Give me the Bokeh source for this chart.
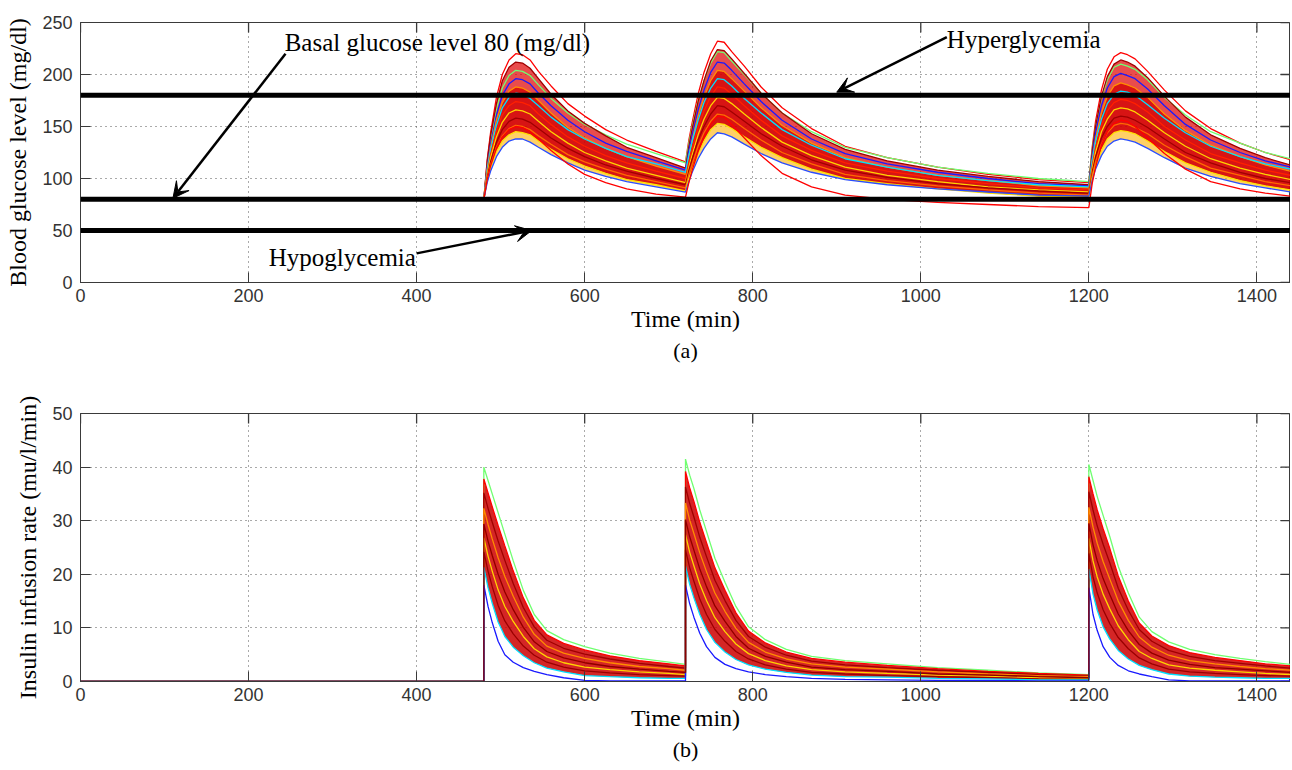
import math
from bokeh.plotting import figure
from bokeh.layouts import column
from bokeh.models import (Range1d, FixedTicker, Span, Arrow, VeeHead, Label, Title)
from bokeh.embed import file_html
from bokeh.resources import INLINE

# ---------------- data ----------------
X_TICKS = [0, 200, 400, 600, 800, 1000, 1200, 1400]
GLU_TICKS = [0, 50, 100, 150, 200, 250]
INS_TICKS = [0, 10, 20, 30, 40, 50]
GLU_LIMITS = [180, 80, 50]  # hyperglycemia, basal, hypoglycemia (mg/dl)

T_GLU = [0, 480, 484, 488, 495, 502, 510, 518, 526, 535, 545, 560, 580, 600, 625, 650, 685, 720,
         724, 728, 735, 742, 750, 758, 766, 775, 790, 810, 835, 870, 910, 960, 1020, 1080, 1140, 1200,
         1204, 1208, 1215, 1222, 1230, 1238, 1246, 1255, 1270, 1290, 1315, 1345, 1380, 1410, 1440]

glu_c01 = [80, 80, 118, 144, 178, 200, 214, 220, 219, 214, 203, 189, 172, 160, 147, 137, 126, 116,
           137, 154, 181, 202, 220, 232, 231, 222, 208, 188, 168, 148, 131, 120, 111, 104, 99, 96,
           130, 155, 185, 205, 217, 221, 219, 215, 203, 185, 165, 148, 134, 125, 118]
glu_c02 = [80, 80, 113, 137, 167, 187, 199, 204, 203, 199, 190, 177, 163, 152, 142, 133, 124, 115,
           134, 150, 175, 194, 211, 222, 221, 213, 200, 182, 163, 145, 130, 120, 111, 105, 100, 97,
           128, 150, 177, 195, 207, 210, 208, 205, 195, 178, 161, 145, 134, 125, 119]
glu_c03 = [80, 80, 116, 141, 172, 194, 207, 212, 211, 206, 196, 181, 165, 153, 141, 130, 120, 110,
           131, 148, 174, 194, 213, 224, 223, 215, 201, 182, 163, 143, 128, 117, 108, 102, 97, 94,
           126, 150, 179, 198, 210, 214, 212, 208, 197, 179, 159, 142, 129, 120, 113]
glu_c04 = [80, 80, 111, 133, 161, 180, 191, 196, 195, 191, 182, 170, 156, 145, 134, 126, 117, 108,
           127, 142, 166, 185, 202, 212, 211, 204, 191, 174, 156, 138, 124, 114, 106, 100, 95, 93,
           122, 144, 170, 187, 198, 201, 199, 196, 186, 170, 152, 137, 125, 117, 111]
glu_c05 = [80, 80, 109, 130, 156, 173, 184, 188, 187, 183, 175, 163, 149, 139, 129, 121, 112, 104,
           122, 137, 160, 178, 194, 204, 203, 196, 184, 168, 151, 134, 120, 111, 103, 98, 93, 91,
           118, 138, 163, 179, 189, 192, 190, 187, 178, 162, 146, 132, 121, 113, 107]
glu_c06 = [80, 80, 108, 127, 151, 168, 178, 182, 181, 177, 170, 159, 147, 138, 129, 121, 114, 106,
           122, 136, 156, 173, 187, 196, 195, 189, 177, 163, 147, 132, 119, 111, 103, 98, 94, 92,
           117, 135, 157, 172, 181, 184, 183, 180, 171, 158, 144, 131, 121, 114, 109]
glu_c07 = [80, 80, 105, 123, 146, 161, 170, 174, 173, 170, 162, 152, 140, 131, 122, 115, 107, 100,
           116, 129, 149, 165, 179, 188, 187, 181, 170, 156, 141, 127, 115, 107, 100, 95, 91, 89,
           112, 130, 151, 165, 173, 176, 175, 172, 164, 150, 137, 124, 115, 108, 103]
glu_c08 = [80, 80, 103, 120, 140, 154, 163, 166, 165, 162, 155, 145, 134, 125, 117, 110, 103, 96,
           111, 123, 142, 157, 170, 178, 177, 172, 162, 149, 135, 122, 111, 103, 97, 92, 89, 87,
           109, 125, 145, 157, 166, 168, 167, 164, 156, 144, 131, 119, 110, 104, 99]
glu_c09 = [80, 80, 101, 116, 135, 147, 155, 158, 157, 154, 148, 139, 129, 121, 113, 107, 100, 94,
           108, 119, 137, 150, 162, 170, 169, 164, 155, 143, 131, 118, 108, 101, 95, 91, 88, 86,
           106, 121, 139, 150, 158, 160, 159, 156, 149, 138, 125, 115, 106, 100, 96]
glu_c10 = [80, 80, 99, 113, 130, 141, 148, 151, 150, 147, 141, 133, 123, 116, 109, 103, 97, 91,
           104, 114, 131, 144, 155, 162, 161, 157, 148, 137, 125, 114, 104, 98, 93, 89, 86, 84,
           103, 116, 133, 144, 151, 153, 152, 149, 143, 132, 121, 110, 103, 97, 93]
glu_c11 = [80, 80, 98, 110, 126, 136, 142, 145, 144, 142, 136, 128, 119, 112, 105, 99, 94, 88,
           100, 109, 124, 136, 147, 153, 152, 148, 140, 130, 120, 109, 100, 95, 90, 86, 83, 82,
           99, 112, 127, 138, 144, 146, 145, 143, 136, 126, 115, 106, 98, 93, 89]
glu_c12 = [80, 80, 96, 107, 121, 130, 136, 138, 138, 135, 130, 123, 115, 108, 102, 97, 92, 87,
           97, 106, 119, 129, 138, 144, 143, 140, 133, 124, 115, 106, 99, 94, 90, 87, 84, 83,
           98, 109, 122, 131, 136, 138, 137, 135, 129, 120, 110, 102, 95, 91, 87]
glu_c13 = [80, 80, 99, 112, 129, 140, 147, 150, 149, 145, 138, 127, 114, 104, 96, 90, 85, 82,
           96, 108, 126, 140, 152, 160, 159, 152, 139, 122, 105, 92, 84, 80, 77, 75, 73, 72,
           95, 111, 132, 145, 153, 156, 155, 150, 139, 124, 109, 97, 90, 86, 83]

T_INS = [0, 480, 480, 485, 490, 497, 505, 515, 527, 540, 555, 575, 600, 630, 665, 700, 720,
         720, 725, 730, 737, 745, 755, 767, 780, 795, 815, 840, 870, 910, 960, 1020, 1080, 1140, 1200,
         1200, 1205, 1210, 1217, 1225, 1235, 1247, 1260, 1275, 1295, 1320, 1350, 1380, 1410, 1440]

ins_c1 = [0, 0, 40, 37.5, 35, 31.5, 27.5, 22.5, 17, 12.5, 9.5, 7.8, 6.5, 5.3, 4.3, 3.6, 3.2,
          41.5, 38.5, 36, 32, 28, 23, 18.5, 14, 10.2, 7.8, 6, 4.7, 3.9, 3.3, 2.6, 2.1, 1.6, 1.3,
          40.5, 37.5, 34.5, 31, 27, 21.5, 16.5, 12, 9.3, 7.4, 6, 5, 4.3, 3.7, 3.2]
ins_c2 = [0, 0, 37.8, 35.2, 32.6, 29.1, 25.3, 20.6, 15.6, 11.4, 8.7, 7.1, 5.9, 4.8, 3.9, 3.3, 2.9,
          39.2, 36.1, 33.6, 29.7, 25.9, 21.2, 17, 12.8, 9.4, 7.2, 5.5, 4.3, 3.6, 3.0, 2.4, 1.9, 1.5, 1.2,
          38.2, 35, 32, 28.5, 24.8, 19.7, 15, 10.9, 8.5, 6.7, 5.4, 4.5, 3.9, 3.3, 2.9]
ins_c3 = [0, 0, 35.2, 32.3, 29.7, 26.2, 22.6, 18.3, 13.8, 10.2, 7.7, 6.2, 5.1, 4.2, 3.4, 2.8, 2.5,
          36.3, 33.2, 30.7, 26.9, 23.3, 18.9, 15.1, 11.4, 8.4, 6.4, 4.9, 3.8, 3.1, 2.6, 2.1, 1.7, 1.3, 1.0,
          35.4, 32, 29, 25.6, 22.1, 17.4, 13.3, 9.7, 7.5, 5.8, 4.7, 3.9, 3.4, 2.9, 2.5]
ins_c4 = [0, 0, 32.3, 29.3, 26.6, 23.1, 19.6, 15.9, 12.0, 8.8, 6.6, 5.3, 4.3, 3.5, 2.8, 2.4, 2.1,
          33.3, 30.1, 27.6, 24, 20.5, 16.5, 13.1, 9.9, 7.3, 5.5, 4.2, 3.3, 2.7, 2.3, 1.8, 1.4, 1.1, 0.9,
          32.5, 28.8, 25.8, 22.4, 19.1, 15, 11.4, 8.3, 6.4, 4.9, 3.9, 3.3, 2.8, 2.4, 2.1]
ins_c5 = [0, 0, 29.4, 26.2, 23.5, 20, 16.7, 13.4, 10.1, 7.4, 5.6, 4.4, 3.5, 2.8, 2.3, 1.9, 1.7,
          30.2, 27, 24.5, 21, 17.7, 14.1, 11.2, 8.4, 6.2, 4.7, 3.6, 2.7, 2.2, 1.9, 1.4, 1.2, 0.9, 0.7,
          29.5, 25.5, 22.5, 19.2, 16.2, 12.6, 9.5, 6.9, 5.3, 4.0, 3.2, 2.6, 2.3, 2.0, 1.7]
ins_c6 = [0, 0, 26.8, 23.4, 20.6, 17.1, 14, 11.2, 8.4, 6.1, 4.6, 3.5, 2.7, 2.2, 1.8, 1.5, 1.3,
          27.4, 24.1, 21.6, 18.2, 15.1, 11.9, 9.3, 7.0, 5.2, 3.9, 2.9, 2.2, 1.8, 1.5, 1.2, 1.0, 0.7, 0.6,
          26.7, 22.5, 19.5, 16.3, 13.5, 10.4, 7.8, 5.6, 4.3, 3.1, 2.5, 2.1, 1.8, 1.5, 1.3]
ins_c7 = [0, 0, 24.2, 20.6, 17.7, 14.2, 11.3, 8.9, 6.6, 4.9, 3.6, 2.7, 2.0, 1.6, 1.3, 1.1, 1.0,
          24.6, 21.2, 18.7, 15.4, 12.5, 9.7, 7.5, 5.6, 4.2, 3.1, 2.3, 1.7, 1.4, 1.1, 0.9, 0.7, 0.5, 0.4,
          23.9, 19.5, 16.5, 13.4, 10.8, 8.2, 6.1, 4.4, 3.3, 2.3, 1.8, 1.5, 1.3, 1.1, 1.0]
ins_c8 = [0, 0, 21.3, 17.5, 14.6, 11.1, 8.4, 6.4, 4.8, 3.5, 2.5, 1.8, 1.1, 0.9, 0.7, 0.6, 0.6,
          21.5, 18.1, 15.6, 12.5, 9.7, 7.3, 5.5, 4.1, 3.1, 2.3, 1.7, 1.2, 0.9, 0.8, 0.6, 0.5, 0.3, 0.3,
          21, 16.3, 13.3, 10.2, 7.9, 5.8, 4.2, 3.0, 2.2, 1.4, 1.0, 0.8, 0.7, 0.6, 0.6]
ins_c9 = [0, 0, 18, 14, 11, 7.5, 5, 3.6, 2.6, 1.9, 1.3, 0.7, 0.2, 0.1, 0.1, 0.1, 0.1,
          18, 14.5, 12, 9, 6.5, 4.5, 3.2, 2.4, 1.8, 1.3, 0.9, 0.6, 0.4, 0.3, 0.2, 0.2, 0.1, 0.1,
          17.5, 12.5, 9.5, 6.5, 4.5, 3, 2, 1.4, 0.9, 0.3, 0.1, 0.1, 0.1, 0.1, 0.1]

GLU_CURVES = [glu_c01, glu_c02, glu_c03, glu_c04, glu_c05, glu_c06, glu_c07,
              glu_c08, glu_c09, glu_c10, glu_c11, glu_c12, glu_c13]
GLU_COLORS = ["#ff0000", "#70ff70", "#a00000", "#1a1aff", "#ff8c00", "#00e0ff", "#ff2000",
              "#ffd400", "#a00000", "#ff6a00", "#ffe000", "#2a4dff", "#ff0000"]
INS_CURVES = [ins_c1, ins_c2, ins_c3, ins_c4, ins_c5, ins_c6, ins_c7, ins_c8, ins_c9]
INS_COLORS = ["#70ff70", "#ff0000", "#a00000", "#ff8c00", "#ff1a00", "#ffd400", "#9a0000",
              "#00e0ff", "#1a1aff"]

for c in GLU_CURVES:
    assert len(c) == len(T_GLU), len(c)
for c in INS_CURVES:
    assert len(c) == len(T_INS), len(c)

SERIF = "Liberation Serif"
SANS = "Liberation Sans"
AX_COL = "#3a3a3a"


def make_fig(y_max, y_ticks, y_label, caption, frame_h, top_border):
    p = figure(frame_width=1210, frame_height=frame_h,
               x_range=Range1d(0, 1440), y_range=Range1d(0, y_max),
               output_backend="svg", toolbar_location=None,
               min_border_left=80, min_border_right=0, min_border_top=top_border,
               min_border_bottom=0)
    p.outline_line_color = AX_COL
    p.outline_line_width = 1
    p.background_fill_color = "white"
    p.border_fill_color = "white"

    p.xaxis.ticker = FixedTicker(ticks=X_TICKS)
    p.yaxis.ticker = FixedTicker(ticks=y_ticks)
    p.xaxis.axis_label = "Time (min)"
    p.yaxis.axis_label = y_label
    for ax in (p.xaxis[0], p.yaxis[0]):
        ax.major_tick_in = 10
        ax.major_tick_out = 0
        ax.minor_tick_line_color = None
        ax.axis_line_color = AX_COL
        ax.major_tick_line_color = AX_COL
        ax.major_label_text_font = SANS
        ax.major_label_text_font_size = "18px"
        ax.major_label_text_color = "#333333"
        ax.axis_label_text_font = SERIF
        ax.axis_label_text_font_size = "24px"
        ax.axis_label_text_font_style = "normal"
        ax.axis_label_text_color = "black"
    p.xaxis.major_label_standoff = 6
    p.xaxis.axis_label_standoff = 1
    p.yaxis.major_label_standoff = 8
    p.yaxis.axis_label_standoff = 8

    for g in (p.xgrid[0], p.ygrid[0]):
        g.grid_line_color = "#555555"
        g.grid_line_dash = "1 4"
        g.grid_line_width = 1
    p.xgrid.ticker = FixedTicker(ticks=X_TICKS)
    p.ygrid.ticker = FixedTicker(ticks=y_ticks)

    # box-style inward ticks on top and right edges (clipped to the frame)
    p.scatter(x=X_TICKS, y=[y_max] * len(X_TICKS), marker="dash", size=20,
              angle=math.pi / 2, line_color=AX_COL, line_width=1.3)
    p.scatter(x=[1440] * len(y_ticks), y=y_ticks, marker="dash", size=20,
              line_color=AX_COL, line_width=1.3)

    p.add_layout(Title(text=caption, align="center", text_font=SERIF,
                       text_font_size="22px", text_font_style="normal",
                       text_color="black", standoff=3), "below")
    return p


# ---------------- (a) glucose ----------------
p1 = make_fig(250, GLU_TICKS, "Blood glucose level (mg/dl)", "(a)", 260, 22)
p1.varea(x=T_GLU, y1=glu_c05, y2=glu_c03, fill_color="#e00000", fill_alpha=0.7)
p1.varea(x=T_GLU, y1=glu_c11, y2=glu_c05, fill_color="#d40000", fill_alpha=0.92)
p1.varea(x=T_GLU, y1=glu_c12, y2=glu_c11, fill_color="#ffb000", fill_alpha=0.6)
for c, col in zip(GLU_CURVES, GLU_COLORS):
    p1.line(T_GLU, c, line_color=col, line_width=1.3)

for lv in GLU_LIMITS:
    p1.add_layout(Span(location=lv, dimension="width", line_color="black", line_width=5))

lab_kw = dict(text_font=SERIF, text_font_size="25px", text_color="black",
              text_baseline="middle", text_align="left")
p1.add_layout(Label(x=243, y=231, text="Basal glucose level 80 (mg/dl)", **lab_kw))
p1.add_layout(Label(x=1031, y=234, text="Hyperglycemia", **lab_kw))
p1.add_layout(Label(x=224, y=24, text="Hypoglycemia", **lab_kw))

head = dict(size=16, line_color="black", fill_color="black", line_width=1)
p1.add_layout(Arrow(end=VeeHead(**head), x_start=244, y_start=220, x_end=110, y_end=81,
                    line_width=2.5, line_color="black"))
p1.add_layout(Arrow(end=VeeHead(**head), x_start=1031, y_start=236, x_end=900, y_end=183,
                    line_width=2.5, line_color="black"))
p1.add_layout(Arrow(end=VeeHead(**head), x_start=400, y_start=28, x_end=537, y_end=50,
                    line_width=2.5, line_color="black"))

# ---------------- (b) insulin ----------------
p2 = make_fig(50, INS_TICKS, "Insulin infusion rate (mu/l/min)", "(b)", 268, 49)
p2.varea(x=T_INS, y1=ins_c8, y2=ins_c2, fill_color="#cc0000", fill_alpha=0.85)
for c, col in zip(INS_CURVES, INS_COLORS):
    p2.line(T_INS, c, line_color=col, line_width=1.3)
p2.line(T_INS, ins_c5, line_color="#8b0000", line_width=1.3)

layout = column(p1, p2, spacing=0)
open("out.html", "w").write(file_html(layout, INLINE))
